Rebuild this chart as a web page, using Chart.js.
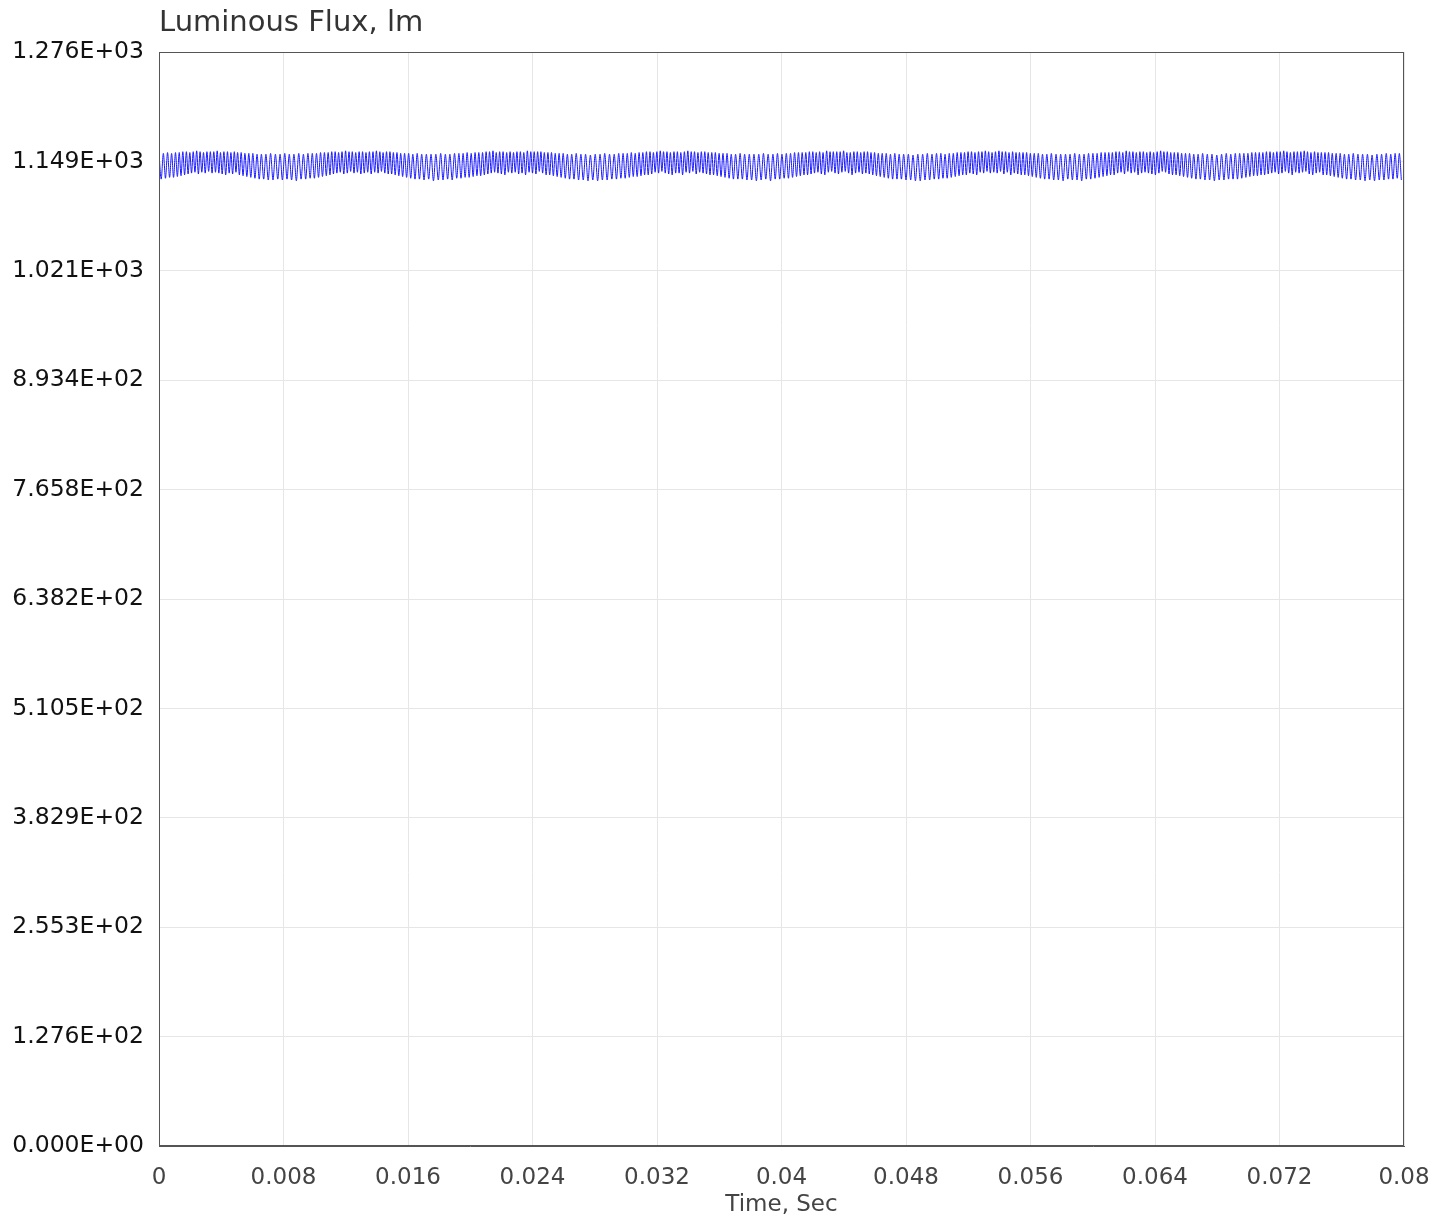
<!DOCTYPE html>
<html>
<head>
<meta charset="utf-8">
<script src="https://cdn.jsdelivr.net/npm/chart.js@4"></script>
<style>
  html, body { margin: 0; padding: 0; background: #ffffff; }
  #wrap { width: 1448px; height: 1218px; }
</style>
</head>
<body>
<div id="wrap"><canvas id="c" width="1448" height="1218"></canvas></div>
<script>
// ---- DATA ----
const chartTitle = "Luminous Flux, lm";
const xAxisTitle = "Time, Sec";

// Duration of each ripple cycle, in units of 0.01 ms
const cycleDurations = [
  28,27,26,25,24,23,23,22,22,22,22,22,22,22,22,
  22,21,22,23,22,22,21, 23,24,25,26,27,28,29,30,31,30,30,29, 30,31,30,29,28,27,26,25,24,23,22, 22,22,23,22,21,22,22,22,
  22,22,23,22,22,21,22,22, 22,23,24,25,26,27,28,29,30,30,31, 31,30,29,30,28,27,26,26,25,24,24,23, 22,22,21,22,22,23,22,22,
  22,22,22,23,22,22,22,21, 22,23,23,24,25,26,27,28,29,30,30,31,31, 31,30,31,30,29,28,27,26,25,25,24,23,23, 22,22,22,21,22,22,23,22,
  22,23,22,22,21,22,22,22,22, 23,23,24,25,26,27,28,29,29,30,30,31, 30,30,31,29,29,28,27,26,25,24,23,23, 22,22,22,22,23,22,21,22,
  22,22,21,22,23,22,22,22,22, 22,23,24,25,26,27,28,28,29,30,30,31, 31,30,30,29,28,27,27,26,25,24,23,23, 22,22,23,22,22,21,22,22,
  22,21,22,22,23,22,22, 23,23,24,25,26,27,28,29,30,30,31, 29,30,30,30,29,28,27,26,25,24,23,23, 22,22,22,21,22,22,23,22,
  22,22,22,23,22,21,22,22, 23,23,24,25,26,27,28,29,30,30,31, 31,30,29,29,28,27,26,25,24,24,23,23,23, 22,22,22,22,21,22,23,22,
  22,22,21,22,23,22,22, 23,23,24,25,26,27,28,29,30,30,31, 30,31,30,30,29,28,27,26
];

// Flux at the top of each ripple cycle (lm)
const peakFlux = [
  1158,1158,1159,1158,1159,1159,1160,1160,1159,1160,1161,1160,1159,1160,1160,
  1160,1161,1159,1160,1160,1159,1160, 1159,1159,1158,1158,1158,1157,1157,1157,1158,1157,1157,1158, 1157,1157,1158,1157,1158,1158,1158,1159,1159,1159,1160, 1160,1159,1160,1161,1160,1160,1159,1160,
  1160,1159,1160,1160,1161,1160,1159,1160, 1160,1159,1159,1158,1158,1158,1157,1158,1157,1157,1157, 1157,1158,1157,1157,1158,1158,1158,1159,1158,1159,1159,1159, 1160,1160,1161,1159,1160,1160,1159,1160,
  1159,1160,1160,1159,1161,1160,1160,1160, 1160,1159,1159,1159,1158,1158,1158,1157,1157,1158,1157,1157,1156, 1157,1157,1158,1157,1157,1158,1158,1158,1159,1158,1159,1159,1160, 1160,1159,1160,1161,1160,1160,1159,1160,
  1160,1159,1160,1161,1160,1160,1159,1160,1160, 1159,1159,1159,1158,1158,1158,1157,1157,1158,1157,1157,1157, 1157,1158,1157,1157,1158,1157,1158,1158,1159,1159,1159,1159, 1160,1160,1159,1160,1159,1161,1160,1160,
  1160,1160,1161,1159,1159,1160,1160,1159,1160, 1160,1159,1159,1158,1158,1158,1157,1158,1157,1157,1157,1156, 1157,1157,1158,1157,1158,1158,1157,1158,1158,1159,1159,1159, 1160,1160,1159,1160,1160,1161,1160,1159,
  1160,1161,1160,1160,1159,1160,1159, 1159,1159,1159,1158,1158,1158,1157,1157,1158,1157,1157, 1157,1157,1158,1157,1157,1158,1158,1158,1159,1159,1159,1159, 1160,1160,1159,1161,1160,1160,1159,1160,
  1160,1159,1160,1159,1160,1161,1160,1160, 1159,1159,1159,1158,1158,1158,1157,1157,1158,1157,1157, 1156,1157,1158,1157,1158,1158,1158,1158,1159,1159,1159,1159,1160, 1160,1159,1160,1160,1161,1160,1159,1160,
  1160,1160,1161,1160,1159,1160,1159, 1159,1159,1159,1158,1158,1158,1157,1157,1158,1157,1157, 1157,1156,1157,1157,1158,1157,1158,1158
];

// Flux at the bottom of each ripple cycle (lm)
const troughFlux = [
  1128,1129,1130,1130,1131,1132,1133,1134,1135,1136,1134,1136,1135,1137,1135,
  1136,1135,1134,1133,1135,1134,1136, 1133,1132,1131,1130,1129,1128,1128,1127,1127,1128,1127,1128, 1127,1126,1128,1128,1129,1129,1130,1131,1132,1133,1134, 1135,1136,1134,1135,1137,1135,1136,1134,
  1135,1136,1134,1136,1135,1137,1135,1134, 1134,1133,1132,1131,1130,1129,1128,1128,1127,1128,1126, 1127,1127,1128,1127,1129,1129,1130,1130,1131,1132,1132,1133, 1134,1135,1136,1135,1134,1133,1136,1135,
  1136,1134,1135,1133,1136,1135,1134,1137, 1135,1133,1133,1132,1131,1130,1129,1128,1128,1127,1127,1126,1127, 1126,1127,1127,1128,1128,1129,1129,1130,1131,1131,1132,1133,1133, 1134,1136,1135,1137,1135,1134,1133,1135,
  1135,1133,1136,1135,1137,1134,1136,1135,1134, 1133,1133,1132,1131,1130,1129,1128,1128,1128,1127,1127,1126, 1127,1128,1126,1128,1128,1129,1129,1130,1131,1132,1133,1133, 1134,1135,1136,1134,1133,1136,1137,1135,
  1134,1136,1137,1135,1133,1135,1136,1134,1135, 1134,1133,1132,1131,1130,1129,1128,1128,1128,1127,1127,1126, 1126,1127,1127,1128,1128,1129,1129,1130,1131,1132,1133,1133, 1135,1134,1133,1136,1135,1137,1135,1136,
  1135,1137,1134,1136,1133,1135,1134, 1133,1133,1132,1131,1130,1129,1128,1128,1127,1127,1126, 1128,1127,1127,1126,1128,1128,1129,1130,1131,1132,1133,1133, 1135,1136,1134,1137,1135,1136,1133,1135,
  1136,1135,1134,1133,1135,1137,1136,1134, 1133,1133,1132,1131,1130,1129,1128,1128,1127,1127,1126, 1127,1127,1128,1128,1128,1129,1130,1131,1132,1132,1133,1133,1134, 1135,1136,1134,1135,1137,1135,1133,1136,
  1135,1136,1137,1134,1133,1135,1136, 1133,1133,1132,1131,1130,1129,1128,1128,1127,1127,1126, 1127,1126,1127,1127,1128,1128,1129,1127
];

const xTickValues = [0, 0.008, 0.016, 0.024, 0.032, 0.04, 0.048, 0.056, 0.064, 0.072, 0.08];
const xTickLabels = ["0", "0.008", "0.016", "0.024", "0.032", "0.04", "0.048", "0.056", "0.064", "0.072", "0.08"];
const yTickValues = [0, 127.63, 255.26, 382.89, 510.52, 638.15, 765.78, 893.41, 1021.04, 1148.67, 1276.3];
const yTickLabels = ["0.000E+00", "1.276E+02", "2.553E+02", "3.829E+02", "5.105E+02", "6.382E+02", "7.658E+02", "8.934E+02", "1.021E+03", "1.149E+03", "1.276E+03"];
const yMax = 1276.3;
const xMax = 0.08;

// ---- build the point table from the arrays ----
const points = [];
let tUnits = 0;
for (let i = 0; i < cycleDurations.length; i++) {
  const d = cycleDurations[i];
  points.push({ x: tUnits * 1e-5, y: peakFlux[i] });
  points.push({ x: (tUnits + d / 2) * 1e-5, y: troughFlux[i] });
  tUnits += d;
}

const FONT = '"DejaVu Sans", Verdana, sans-serif';

const frameBox = {
  id: 'frameBox',
  afterDatasetsDraw(chart) {
    const { ctx, chartArea: a } = chart;
    ctx.save();
    ctx.strokeStyle = '#555555';
    ctx.lineWidth = 1;
    ctx.strokeRect(Math.round(a.left) + 0.5, Math.round(a.top) + 0.5,
                   Math.round(a.right - a.left) - 1, Math.round(a.bottom - a.top) - 1);
    ctx.restore();
  }
};

new Chart(document.getElementById('c'), {
  type: 'line',
  data: {
    datasets: [{
      data: points,
      borderColor: 'rgb(25,25,255)',
      borderWidth: 1,
      pointRadius: 0,
      fill: false,
      cubicInterpolationMode: 'monotone'
    }]
  },
  plugins: [frameBox],
  options: {
    responsive: false,
    animation: false,
    devicePixelRatio: 1,
    layout: { padding: { left: 0, right: 44, top: 0, bottom: 0 } },
    plugins: {
      legend: { display: false },
      tooltip: { enabled: false },
      title: {
        display: true,
        text: chartTitle,
        align: 'start',
        fullSize: false,
        color: '#333333',
        font: { family: FONT, size: 29, weight: 'normal', lineHeight: 1.2 },
        padding: { top: 6, bottom: 11.2 }
      }
    },
    scales: {
      x: {
        type: 'linear',
        min: 0,
        max: xMax,
        afterBuildTicks: (s) => { s.ticks = xTickValues.map(v => ({ value: v })); },
        afterFit: (s) => { s.height = 72; },
        ticks: {
          autoSkip: false,
          maxRotation: 0,
          padding: 18,
          color: '#444444',
          font: { family: FONT, size: 23 },
          callback: (v, i) => xTickLabels[i]
        },
        grid: { color: '#e6e6e6', drawTicks: false },
        border: { color: '#555555', width: 1 },
        title: {
          display: true,
          text: xAxisTitle,
          color: '#444444',
          font: { family: FONT, size: 23, lineHeight: 1.1 },
          padding: { top: 0, bottom: 0 }
        }
      },
      y: {
        type: 'linear',
        min: 0,
        max: yMax,
        afterBuildTicks: (s) => { s.ticks = yTickValues.map(v => ({ value: v })); },
        afterFit: (s) => { s.width = 159; },
        ticks: {
          autoSkip: false,
          padding: 15,
          color: '#111111',
          font: { family: FONT, size: 23.5 },
          callback: (v, i) => yTickLabels[i]
        },
        grid: { color: '#e6e6e6', drawTicks: false },
        border: { color: '#555555', width: 1 }
      }
    }
  }
});
</script>
</body>
</html>
